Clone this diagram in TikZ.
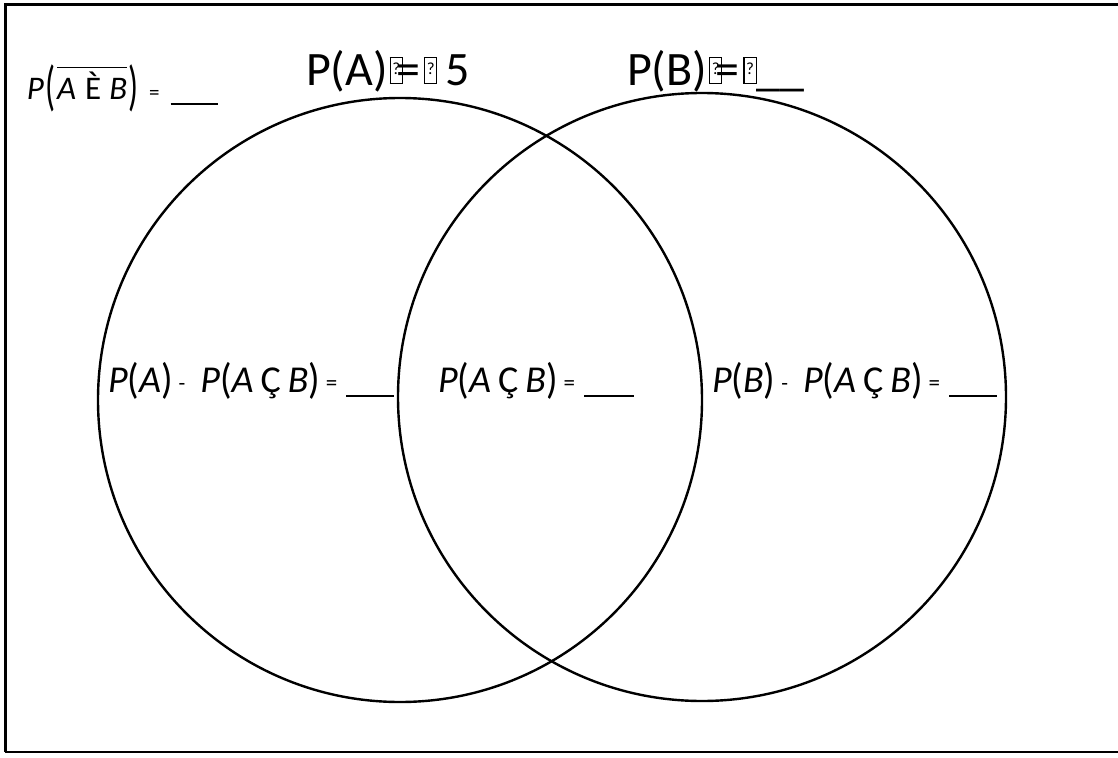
\documentclass[tikz,border=0pt]{standalone}
\usepackage{fontspec}
\setmainfont{Carlito}
\usepackage{graphicx}
\newcommand\qb{\raisebox{3pt}{\setlength\fboxsep{0pt}\setlength\fboxrule{1.2pt}\fbox{\makebox[11pt]{\rule{0pt}{25pt}\raisebox{8pt}{\fontsize{17}{17}\selectfont ?}}}}}
\newcommand\blank[1]{\rule[-5pt]{#1}{1.8pt}}
\newcommand\eqs{\raisebox{2pt}{\fontsize{23}{23}\selectfont =}}
\newcommand\mns{\raisebox{2pt}{\fontsize{22}{22}\selectfont -}}
\newcommand\LP{\raisebox{-1.5pt}{\scalebox{1}[1.12]{(}}}
\newcommand\RP{\raisebox{-1.5pt}{\scalebox{1}[1.12]{)}}}
\newcommand\BLP{\raisebox{-5pt}{\scalebox{1}[1.65]{(}}}
\newcommand\BRP{\raisebox{-5pt}{\scalebox{1}[1.65]{)}}}
\newcommand\ovl[1]{\vbox{\hrule height 1.5pt\kern 4pt\hbox{#1}}}
\tikzset{
  lbl/.style={anchor=base west, inner sep=0pt, outer sep=0pt},
  venn/.style={draw=black, line width=2.4pt},
  frame/.style={draw=black, line width=3pt}
}
\begin{document}
\begin{tikzpicture}[x=1pt,y=-1pt]
\useasboundingbox (0,0) rectangle (1118,757);
\fill[white] (0,0) rectangle (1118,757);
\clip (0,0) rectangle (1118,757);
\coordinate (tr) at (1130,5);
\coordinate (tl) at (5,5);
\coordinate (bl) at (5,752);
\coordinate (br) at (1130,752);
\draw[frame] (tr) -- (tl) -- (bl);
\draw[draw=black, line width=2pt] (bl) -- (br);
\coordinate (ca) at (400,400);
\coordinate (cb) at (702,397);
\draw[venn] (ca) circle[radius=302];
\draw[venn] (cb) circle[radius=304];
\node[lbl] (ta) at (306,86) {\fontsize{48}{48}\selectfont P(A)\kern2pt\qb\kern-7pt=\kern4pt\qb\kern8pt5};
\node[lbl] (tb) at (627,86) {\fontsize{48}{48}\selectfont P(B)\kern2pt\qb\kern-7pt=\kern4pt\qb\kern0pt\_\_};
\node[lbl] (nu) at (27,100) {\fontsize{33}{33}\selectfont \textit{P}\kern1pt\BLP\kern2pt\ovl{\textit{A}\kern9pt È\kern8pt\textit{B}}\kern1pt\BRP\kern11pt\raisebox{1pt}{\fontsize{21}{21}\selectfont =}\kern11pt\blank{47pt}};
\node[lbl] (na) at (108,392) {\fontsize{38}{38}\selectfont \textit{P}\LP\textit{A}\RP\kern6pt\mns\kern15pt\textit{P}\LP\textit{A}\kern7pt Ç\kern7pt\textit{B}\RP\kern6pt\eqs\kern9pt\blank{48pt}};
\node[lbl] (nab) at (438,392) {\fontsize{38}{38}\selectfont \textit{P}\LP\textit{A}\kern7pt Ç\kern7pt\textit{B}\RP\kern6pt\eqs\kern9pt\blank{50pt}};
\node[lbl] (nb) at (712,392) {\fontsize{38}{38}\selectfont \textit{P}\LP\textit{B}\RP\kern6pt\mns\kern15pt\textit{P}\LP\textit{A}\kern7pt Ç\kern7pt\textit{B}\RP\kern6pt\eqs\kern9pt\blank{48pt}};
\end{tikzpicture}
\end{document}
